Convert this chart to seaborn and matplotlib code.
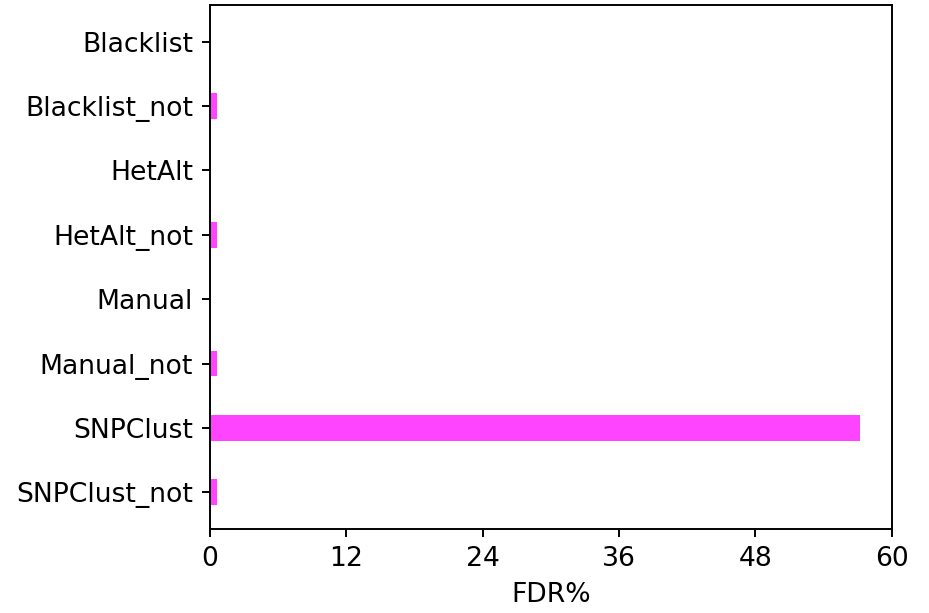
import matplotlib
matplotlib.use('Agg')
import matplotlib.pyplot as plt
import seaborn as sns
import pandas as pd

# categories and FDR values (percent)
categories = ['Blacklist', 'Blacklist_not', 'HetAlt', 'HetAlt_not',
              'Manual', 'Manual_not', 'SNPClust', 'SNPClust_not']
fdr = [0.0, 0.6, 0.0, 0.6, 0.0, 0.6, 57.2, 0.6]
xticks = [0, 12, 24, 36, 48, 60]

df = pd.DataFrame({'filter': categories, 'FDR%': fdr})

plt.rcParams['font.size'] = 11

dpi = 174
fig = plt.figure(figsize=(929 / dpi, 613 / dpi), dpi=dpi)
ax = fig.add_axes([0.226, 0.137, 0.734, 0.855])

sns.barplot(data=df, x='FDR%', y='filter', order=categories,
            color='#ff44ff', saturation=1, width=0.4, ax=ax)

ax.set_xlim(0, 60)
ax.set_xticks(xticks)
ax.set_ylim(7.57, -0.57)
ax.set_ylabel('')
ax.set_xlabel('FDR%')
for s in ax.spines.values():
    s.set_visible(True)
    s.set_color('black')

fig.savefig('out.png', dpi=dpi, facecolor='white')
plt.close(fig)
